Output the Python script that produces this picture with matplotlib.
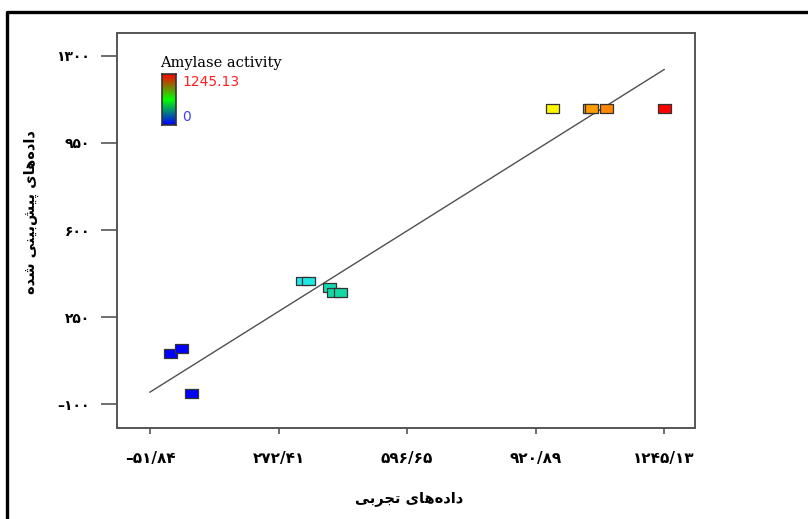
import numpy as np
import matplotlib
matplotlib.use("Agg")
import matplotlib.pyplot as plt
from matplotlib.colors import LinearSegmentedColormap, Normalize
from matplotlib.lines import Line2D
from matplotlib.ticker import FuncFormatter, FixedLocator

# -----------------------------
# Data
# -----------------------------
actual = [0, 28.9, 54.1, 334, 347, 401, 412, 428, 964, 1056, 1063, 1099, 1245.13]
predicted = [105, 125, -56, 395, 395, 369, 347, 347, 1089, 1089, 1089, 1089, 1089]

x_ticks = [-51.84, 272.41, 596.65, 920.89, 1245.13]
y_ticks = [1300, 950, 600, 250, -100]

activity_min = 0
activity_max = 1245.13

x_label = "داده\u200cهای تجربی"
y_label = "داده\u200cهای پیش\u200cبینی شده"
legend_title = "Amylase activity"

# -----------------------------
# Minimal Persian shaping (matplotlib has no bidi / joining)
# -----------------------------
FORMS = {
    'ا': ('\uFE8D', '\uFE8E', None, None),
    'د': ('\uFEA9', '\uFEAA', None, None),
    'ر': ('\uFEAD', '\uFEAE', None, None),
    'ه': ('\uFEE9', '\uFEEA', '\uFEEB', '\uFEEC'),
    'ی': ('\uFBFC', '\uFBFD', '\uFBFE', '\uFBFF'),
    'ت': ('\uFE95', '\uFE96', '\uFE97', '\uFE98'),
    'ج': ('\uFE9D', '\uFE9E', '\uFE9F', '\uFEA0'),
    'ب': ('\uFE8F', '\uFE90', '\uFE91', '\uFE92'),
    'پ': ('\uFB56', '\uFB57', '\uFB58', '\uFB59'),
    'ش': ('\uFEB5', '\uFEB6', '\uFEB7', '\uFEB8'),
    'ن': ('\uFEE5', '\uFEE6', '\uFEE7', '\uFEE8'),
}


def shape(text):
    out = []
    for i, ch in enumerate(text):
        if ch not in FORMS:
            out.append('' if ch == '\u200c' else ch)
            continue
        prev = text[i - 1] if i > 0 else ''
        nxt = text[i + 1] if i + 1 < len(text) else ''
        iso, fin, ini, med = FORMS[ch]
        join_prev = prev in FORMS and FORMS[prev][2] is not None
        join_next = ini is not None and nxt in FORMS
        if join_prev and join_next:
            out.append(med)
        elif join_prev:
            out.append(fin)
        elif join_next:
            out.append(ini)
        else:
            out.append(iso)
    return ''.join(reversed(out))


FA_DIGITS = str.maketrans("0123456789.-", "۰۱۲۳۴۵۶۷۸۹/–")


def fa_num(v, pos=None):
    s = f"{v:.2f}" if abs(v - round(v)) > 1e-6 else f"{int(round(v))}"
    return s.translate(FA_DIGITS)


# -----------------------------
# Figure
# -----------------------------
fig = plt.figure(figsize=(8.08, 5.19), dpi=100)
ax = fig.add_axes([117 / 808, 1 - 428 / 519, 578 / 808, 395 / 519])

# outer frame (only left and top visible)
fig.add_artist(Line2D([7 / 808, 7 / 808, 1.0], [0.0, 1 - 11.5 / 519, 1 - 11.5 / 519],
                      transform=fig.transFigure, color="black", lw=2.4))

cmap = LinearSegmentedColormap.from_list("amylase", [
    (0.0, "#0000ff"), (0.06, "#0000ff"), (0.27, "#22eaea"), (0.33, "#10d8a8"),
    (0.55, "#40e040"), (0.77, "#ffff00"), (0.85, "#ffa000"), (0.89, "#ff8000"),
    (1.0, "#ff0000")])
norm = Normalize(activity_min, activity_max)

# y = x reference line
ax.plot([x_ticks[0], x_ticks[-1]], [x_ticks[0], x_ticks[-1]], color="#505050", lw=1.0, zorder=1)

rect = [(-1.45, -1), (1.45, -1), (1.45, 1), (-1.45, 1), (-1.45, -1)]
ax.scatter(actual, predicted, c=actual, cmap=cmap, norm=norm, marker=rect, s=88,
           edgecolors="#333333", linewidths=0.9, zorder=3)

ax.set_xlim(-135, 1323)
ax.set_ylim(-196, 1392)
ax.xaxis.set_major_locator(FixedLocator(x_ticks))
ax.yaxis.set_major_locator(FixedLocator(y_ticks))
ax.xaxis.set_major_formatter(FuncFormatter(fa_num))
ax.yaxis.set_major_formatter(FuncFormatter(fa_num))

for s in ax.spines.values():
    s.set_color("#555555")
    s.set_linewidth(1.4)
ax.tick_params(axis="y", length=11.5, width=1.2, color="#555555", pad=8, labelsize=10)
ax.tick_params(axis="x", length=4.5, width=1.2, color="#555555", pad=12, labelsize=11)
for lab in ax.get_xticklabels() + ax.get_yticklabels():
    lab.set_fontweight("bold")
    lab.set_family("DejaVu Sans")

ax.set_xlabel(shape(x_label), fontsize=10.5, fontweight="bold")
ax.xaxis.set_label_coords((409 - 117) / 578, (428 - 491) / 395)
ax.set_ylabel(shape(y_label), fontsize=10.5, fontweight="bold")
ax.yaxis.set_label_coords((39 - 117) / 578, (428 - 212) / 395)

# colour legend
ax.text(0.075, 0.925, legend_title, transform=ax.transAxes, family="DejaVu Serif",
        fontsize=10.5, ha="left", va="center")
cax = fig.add_axes([162 / 808, 1 - 125 / 519, 14 / 808, 51 / 519])
grad = np.linspace(1, 0, 100).reshape(-1, 1)
cbar_cmap = LinearSegmentedColormap.from_list("bgr", ["#0000ff", "#00ff00", "#ff0000"])
cax.imshow(grad, aspect="auto", cmap=cbar_cmap)
cax.set_xticks([])
cax.set_yticks([])
for s in cax.spines.values():
    s.set_color("#333333")
    s.set_linewidth(1.2)
fig.text(182 / 808, 1 - 82 / 519, f"{activity_max:.2f}", color="#ff2020", fontsize=10,
         ha="left", va="center")
fig.text(182 / 808, 1 - 117 / 519, f"{activity_min}", color="#4040ff", fontsize=10,
         ha="left", va="center")

fig.savefig("out.png", dpi=100)
